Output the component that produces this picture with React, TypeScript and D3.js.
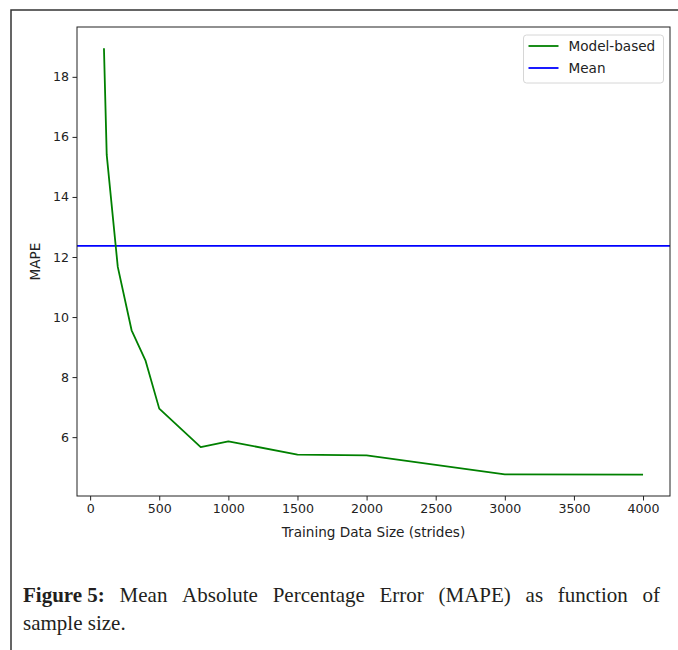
import React, { useEffect, useRef } from "react";
import * as d3 from "d3";

// training size (strides) vs MAPE
const sizes = [100, 120, 200, 300, 400, 500, 800, 1000, 1500, 2000, 3000, 4000];
const mape = [18.95, 15.4, 11.67, 9.56, 8.56, 6.95, 5.67, 5.86, 5.42, 5.39, 4.76, 4.75];
const meanMape = 12.37;
const xTicks = [0, 500, 1000, 1500, 2000, 2500, 3000, 3500, 4000];
const yTicks = [6, 8, 10, 12, 14, 16, 18];
const seriesNames = ["Model-based", "Mean"];
const seriesColors = ["#008000", "#0000ff"];
const captionLine1 = ["Mean", "Absolute", "Percentage", "Error", "(MAPE)", "as", "function", "of"];
const captionLine2 = "sample size.";

const App = () => {
  const svgRef = useRef(null);
  const width = 678;
  const height = 650;

  useEffect(() => {
    document.body.style.margin = "0";
    const svg = d3.select(svgRef.current);
    svg.selectAll("*").remove();

    const left = 77, right = 670, top = 27, bottom = 496;
    const font = "DejaVu Sans, sans-serif";
    const tickFont = `12.6px ${font}`;
    const labelFont = `13.6px ${font}`;

    // outer figure frame (top + left only)
    svg.append("path")
      .attr("d", `M11,650 L11,10 L678,10`)
      .attr("fill", "none")
      .attr("stroke", "#333")
      .attr("stroke-width", 1.5);

    const xPad = (d3.max(sizes) - d3.min(sizes)) * 0.05;
    const yPad = (d3.max(mape) - d3.min(mape)) * 0.05;
    const x = d3.scaleLinear()
      .domain([d3.min(sizes) - xPad, d3.max(sizes) + xPad])
      .range([left, right]);
    const y = d3.scaleLinear()
      .domain([d3.min(mape) - yPad, d3.max(mape) + yPad])
      .range([bottom, top]);

    // x axis
    svg.append("g")
      .attr("transform", `translate(0,${bottom})`)
      .call(d3.axisBottom(x).tickValues(xTicks).tickSize(4.5).tickPadding(3.5).tickFormat(d3.format("d")))
      .call(g => g.select(".domain").remove())
      .call(g => g.selectAll(".tick line").attr("stroke", "#222").attr("stroke-width", 1))
      .call(g => g.selectAll(".tick text").attr("fill", "#222").style("font", tickFont));

    // y axis
    svg.append("g")
      .attr("transform", `translate(${left},0)`)
      .call(d3.axisLeft(y).tickValues(yTicks).tickSize(4.5).tickPadding(3.5))
      .call(g => g.select(".domain").remove())
      .call(g => g.selectAll(".tick line").attr("stroke", "#222").attr("stroke-width", 1))
      .call(g => g.selectAll(".tick text").attr("fill", "#222").style("font", tickFont));

    svg.append("text")
      .attr("x", (left + right) / 2)
      .attr("y", 537)
      .attr("text-anchor", "middle")
      .attr("fill", "#222")
      .style("font", labelFont)
      .text("Training Data Size (strides)");

    svg.append("text")
      .attr("transform", `translate(40,${(top + bottom) / 2}) rotate(-90)`)
      .attr("text-anchor", "middle")
      .attr("fill", "#222")
      .style("font", labelFont)
      .text("MAPE");

    // mean line across whole axes
    svg.append("line")
      .attr("x1", left).attr("x2", right)
      .attr("y1", y(meanMape)).attr("y2", y(meanMape))
      .attr("stroke", seriesColors[1])
      .attr("stroke-width", 1.8);

    const line = d3.line<number>()
      .x((d, i) => x(sizes[i]))
      .y(d => y(d));

    svg.append("path")
      .datum(mape)
      .attr("d", line)
      .attr("fill", "none")
      .attr("stroke", seriesColors[0])
      .attr("stroke-width", 1.8)
      .attr("stroke-linejoin", "round");

    // axes box
    svg.append("rect")
      .attr("x", left).attr("y", top)
      .attr("width", right - left).attr("height", bottom - top)
      .attr("fill", "none")
      .attr("stroke", "#222")
      .attr("stroke-width", 1);

    // legend
    const lg = svg.append("g").attr("transform", "translate(523.5,35)");
    lg.append("rect")
      .attr("width", 140).attr("height", 48)
      .attr("rx", 3)
      .attr("fill", "white")
      .attr("fill-opacity", 0.8)
      .attr("stroke", "#d6d6d6")
      .attr("stroke-width", 1);
    seriesNames.forEach((name, i) => {
      lg.append("line")
        .attr("x1", 5).attr("x2", 35)
        .attr("y1", 11 + i * 22).attr("y2", 11 + i * 22)
        .attr("stroke", seriesColors[i])
        .attr("stroke-width", 1.8);
      lg.append("text")
        .attr("x", 45).attr("y", 16 + i * 22)
        .attr("fill", "#222")
        .style("font", labelFont)
        .text(name);
    });

    // caption, first line justified
    const capFont = "21px Liberation Serif, serif";
    const capLeft = 23, capRight = 660;
    const cap = svg.append("g").attr("fill", "#231f20");
    const words = [{ t: "Figure 5:", bold: true }, ...captionLine1.map(t => ({ t, bold: false }))];
    const nodes = words.map(w =>
      cap.append("text")
        .attr("y", 602)
        .style("font", capFont)
        .style("font-weight", w.bold ? "bold" : "normal")
        .text(w.t)
    );
    const widths = nodes.map(n => (n.node() as SVGTextElement).getComputedTextLength());
    const gap = (capRight - capLeft - d3.sum(widths)) / (nodes.length - 1);
    let cx = capLeft;
    nodes.forEach((n, i) => {
      n.attr("x", cx);
      cx += widths[i] + gap;
    });
    cap.append("text")
      .attr("x", capLeft).attr("y", 630)
      .style("font", capFont)
      .text(captionLine2);
  }, []);

  return (
    <svg width={width} height={height} viewBox={`0 0 ${width} ${height}`} ref={svgRef}
      style={{ display: "block", background: "white" }}></svg>
  );
};

export default App;
